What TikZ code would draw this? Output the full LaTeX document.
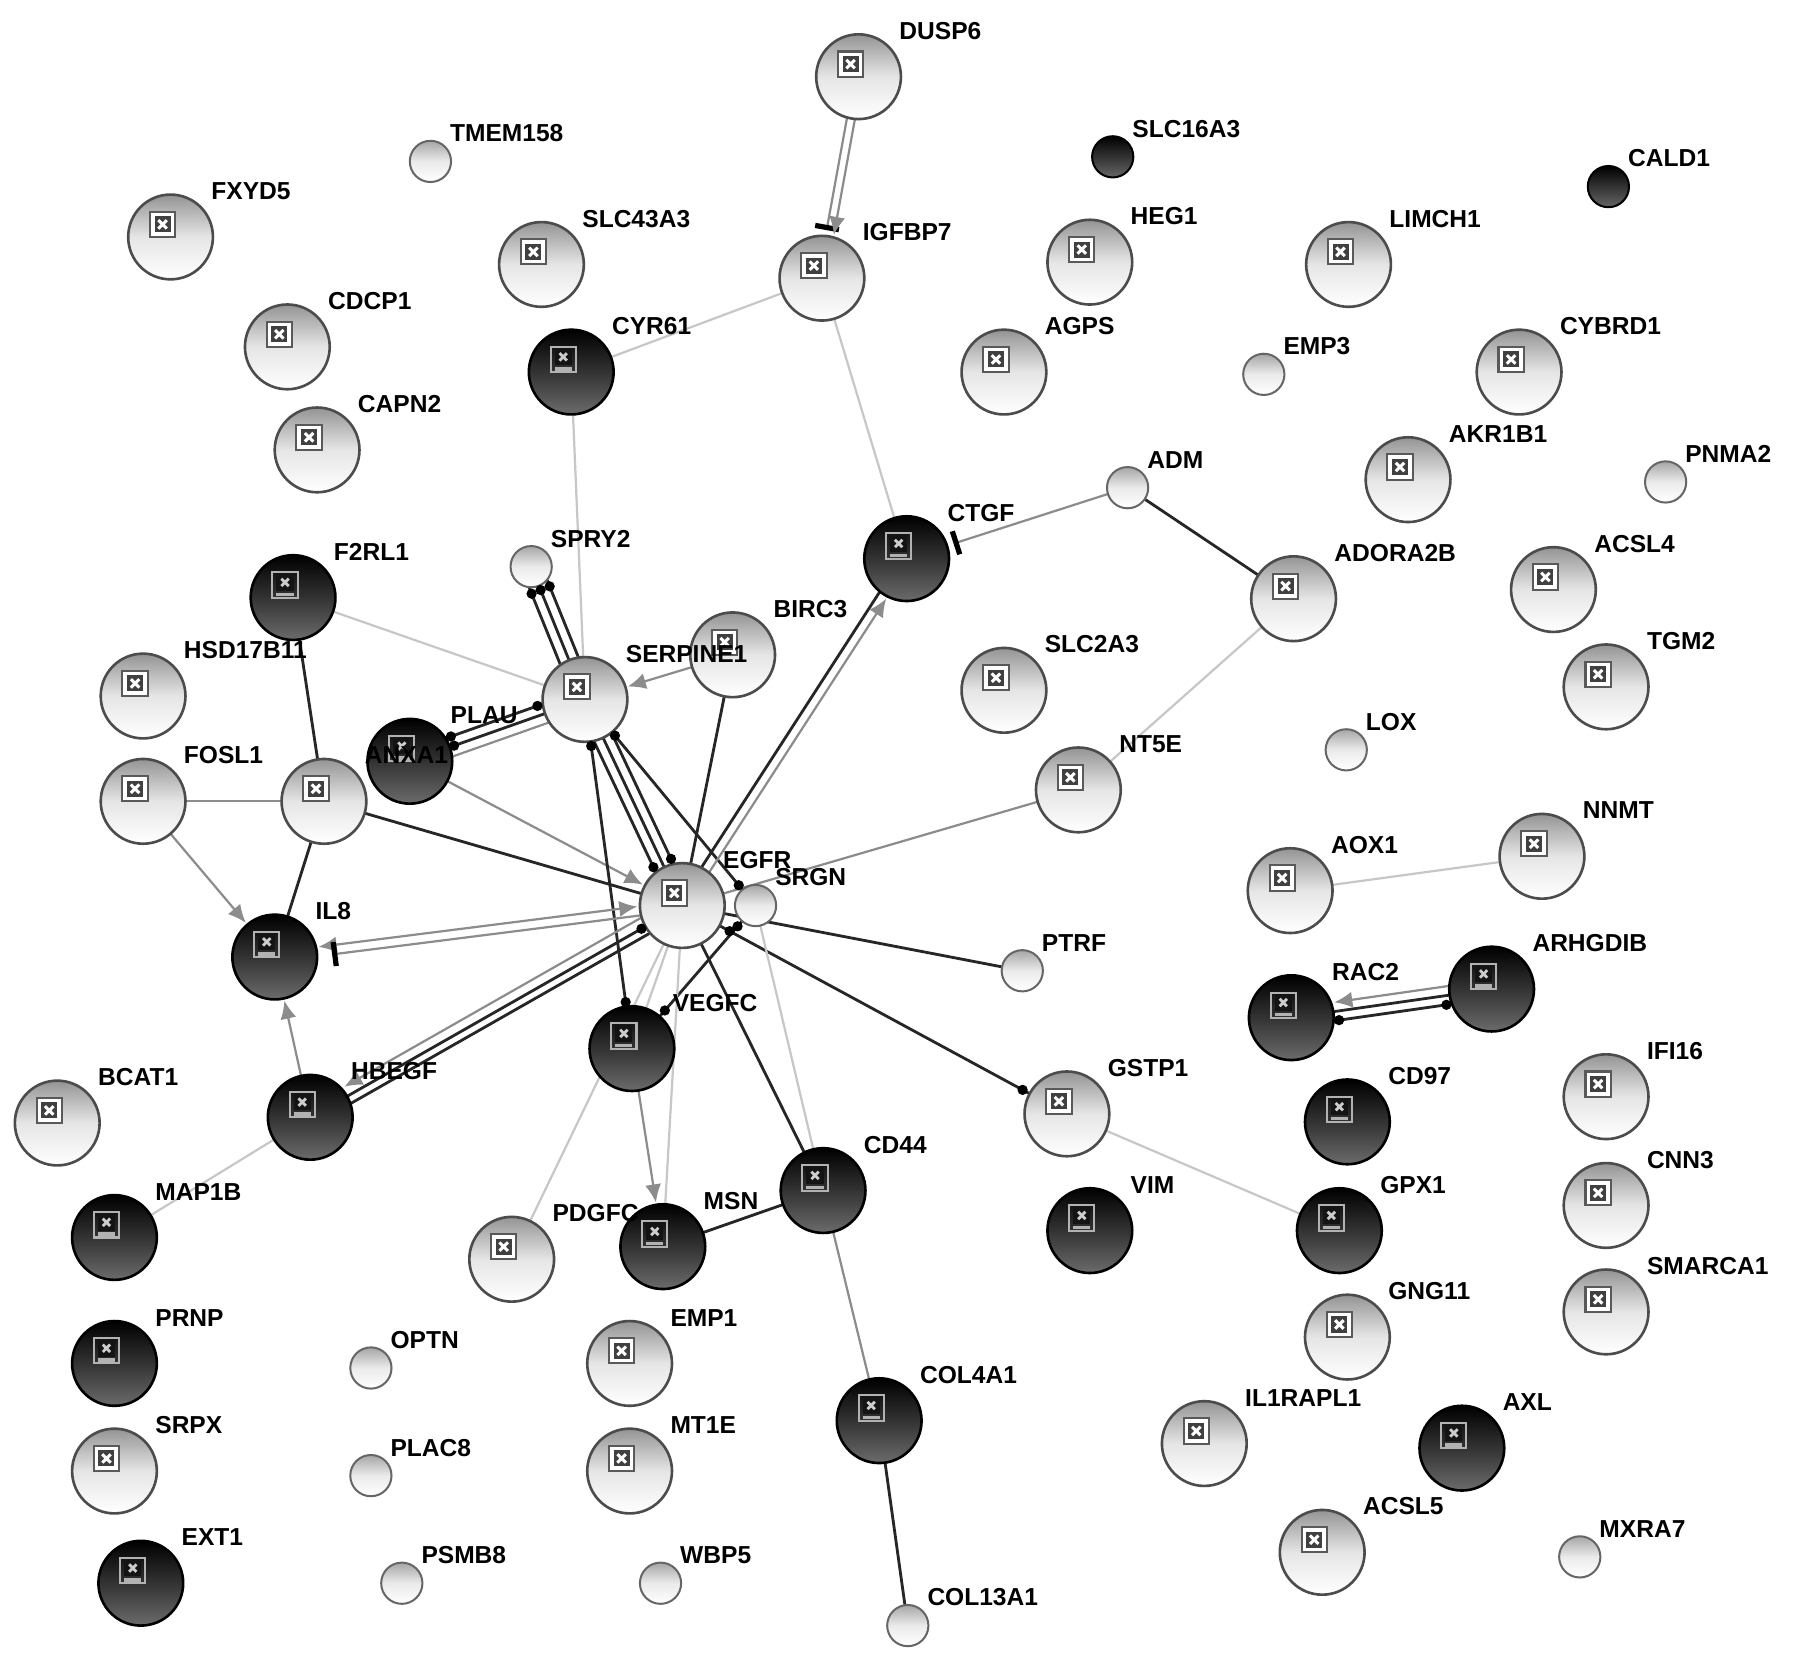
\documentclass[tikz,border=0pt]{standalone}
\usepackage{fontspec}
\newfontfamily\labfam{Liberation Sans Bold}
\usetikzlibrary{calc,arrows.meta}
\pgfdeclarelayer{bg}
\pgfdeclarelayer{fg}
\pgfsetlayers{bg,main,fg}
\tikzset{
 nl/.style={circle,minimum size=0.74cm,inner sep=0pt,draw=black!70,line width=0.65pt,top color=black!42,bottom color=white,middle color=black!10},
 nd/.style={circle,minimum size=0.74cm,inner sep=0pt,draw=black,line width=0.65pt,top color=black,bottom color=black!58,middle color=black!80},
 ns/.style={circle,minimum size=0.36cm,inner sep=0pt,draw=black!60,line width=0.5pt,top color=black!35,bottom color=white,middle color=black!8},
 nsd/.style={circle,minimum size=0.36cm,inner sep=0pt,draw=black,line width=0.5pt,top color=black,bottom color=black!60},
 labL/.style={anchor=west,xshift=0.35cm,yshift=0.40cm,inner sep=0pt,font=\labfam\fontsize{6.1pt}{7pt}\selectfont},
 labS/.style={anchor=west,xshift=0.165cm,yshift=0.245cm,inner sep=0pt,font=\labfam\fontsize{6.1pt}{7pt}\selectfont},
 iconL/.pic={
  \draw[black!65,line width=0.5pt,fill=white] (-0.11cm,-0.11cm) rectangle (0.11cm,0.11cm);
  \fill[black!75] (-0.07cm,-0.07cm) rectangle (0.07cm,0.07cm);
  \draw[white,line width=0.75pt] (-0.037cm,-0.037cm)--(0.037cm,0.037cm) (-0.037cm,0.037cm)--(0.037cm,-0.037cm);
 },
 iconD/.pic={
  \draw[black!30,line width=0.5pt] (-0.11cm,-0.11cm) rectangle (0.11cm,0.11cm);
  \fill[black!92] (-0.075cm,-0.05cm) rectangle (0.075cm,0.095cm);
  \draw[white!80!black,line width=0.7pt] (-0.032cm,-0.01cm)--(0.032cm,0.055cm) (-0.032cm,0.055cm)--(0.032cm,-0.01cm);
  \draw[black!30,line width=0.9pt] (-0.075cm,-0.082cm)--(0.075cm,-0.082cm);
 },
 bk/.style={draw=black!85,line width=0.7pt},
 gy/.style={draw=black!45,line width=0.55pt},
 lt/.style={draw=black!22,line width=0.55pt},
 ar/.style={-{Latex[length=4.5pt,width=4pt]}},
 ra/.style={{Latex[length=4.5pt,width=4pt]}-},
 arar/.style={{Latex[length=4.5pt,width=4pt]}-{Latex[length=4.5pt,width=4pt]}},
 toL/.style={shorten >=0.39cm},
 toS/.style={shorten >=0.2cm},
 frL/.style={shorten <=0.39cm},
 barend/.style={-{Bar[width=6pt,line width=1.3pt,color=black]}},
}
\newcommand\NL[4]{\node[nl] (#1) at (#2,#3) {};\pic at ([shift={(-0.07cm,0.11cm)}]#1.center) {iconL};\begin{pgfonlayer}{fg}\node[labL] at (#1.center) {#4};\end{pgfonlayer}}
\newcommand\ND[4]{\node[nd] (#1) at (#2,#3) {};\pic at ([shift={(-0.07cm,0.11cm)}]#1.center) {iconD};\begin{pgfonlayer}{fg}\node[labL] at (#1.center) {#4};\end{pgfonlayer}}
\newcommand\NS[4]{\node[ns] (#1) at (#2,#3) {};\begin{pgfonlayer}{fg}\node[labS] at (#1.center) {#4};\end{pgfonlayer}}
\newcommand\NSD[4]{\node[nsd] (#1) at (#2,#3) {};\begin{pgfonlayer}{fg}\node[labS] at (#1.center) {#4};\end{pgfonlayer}}
\newcommand\E[4]{\draw[#4] ($(#1.center)!#3!90:(#2.center)$) -- ($(#2.center)!#3!-90:(#1.center)$);}
\newcommand\DB[4]{\fill[black] let \p1=($(#2.center)!#3!-90:(#1.center)$), \p2=($(#1.center)!#3!90:(#2.center)$) in ($(\p1)!#4!(\p2)$) circle (0.045cm);}
\newcommand\DA[4]{\fill[black] let \p1=($(#1.center)!#3!90:(#2.center)$), \p2=($(#2.center)!#3!-90:(#1.center)$) in ($(\p1)!#4!(\p2)$) circle (0.045cm);}
\begin{document}
\begin{tikzpicture}[x=0.01cm,y=-0.01cm]
\useasboundingbox (0,0) rectangle (1568,1451);
\begin{pgfonlayer}{bg}
\fill[white] (0,0) rectangle (1568,1451);
\end{pgfonlayer}
\NL{DUSP6}{750}{67}{DUSP6}
\NS{TMEM158}{376}{141}{TMEM158}
\NL{FXYD5}{149}{207}{FXYD5}
\NL{SLC43A3}{473}{231}{SLC43A3}
\NL{IGFBP7}{718}{243}{IGFBP7}
\NSD{SLC16A3}{972}{137}{SLC16A3}
\NSD{CALD1}{1405}{163}{CALD1}
\NL{HEG1}{952}{229}{HEG1}
\NL{LIMCH1}{1178}{231}{LIMCH1}
\NL{CDCP1}{251}{303}{CDCP1}
\ND{CYR61}{499}{325}{CYR61}
\NL{AGPS}{877}{325}{AGPS}
\NS{EMP3}{1104}{327}{EMP3}
\NL{CYBRD1}{1327}{325}{CYBRD1}
\NL{CAPN2}{277}{393}{CAPN2}
\NL{AKR1B1}{1230}{419}{AKR1B1}
\NS{PNMA2}{1455}{421}{PNMA2}
\NS{ADM}{985}{426}{ADM}
\ND{CTGF}{792}{488}{CTGF}
\NS{SPRY2}{464}{495}{SPRY2}
\ND{F2RL1}{256}{522}{F2RL1}
\NL{ADORA2B}{1130}{523}{ADORA2B}
\NL{ACSL4}{1357}{515}{ACSL4}
\NL{HSD17B11}{125}{608}{HSD17B11}
\NL{BIRC3}{640}{572}{BIRC3}
\NL{SERPINE1}{511}{611}{SERPINE1}
\NL{SLC2A3}{877}{603}{SLC2A3}
\NL{TGM2}{1403}{600}{TGM2}
\NS{LOX}{1176}{655}{LOX}
\ND{PLAU}{358}{665}{PLAU}
\NL{ANXA1}{283}{700}{ANXA1}
\NL{FOSL1}{125}{700}{FOSL1}
\NL{NT5E}{942}{690}{NT5E}
\NL{NNMT}{1347}{748}{NNMT}
\NL{AOX1}{1127}{778}{AOX1}
\NL{EGFR}{596}{791}{EGFR}
\NS{SRGN}{660}{791}{SRGN}
\ND{IL8}{240}{836}{IL8}
\NS{PTRF}{893}{848}{PTRF}
\ND{ARHGDIB}{1303}{864}{ARHGDIB}
\ND{RAC2}{1128}{889}{RAC2}
\ND{VEGFC}{552}{916}{VEGFC}
\ND{HBEGF}{271}{976}{HBEGF}
\NL{BCAT1}{50}{981}{BCAT1}
\NL{GSTP1}{932}{973}{GSTP1}
\ND{CD97}{1177}{980}{CD97}
\NL{IFI16}{1403}{958}{IFI16}
\ND{CD44}{719}{1040}{CD44}
\ND{MAP1B}{100}{1081}{MAP1B}
\ND{VIM}{952}{1075}{VIM}
\ND{GPX1}{1170}{1075}{GPX1}
\NL{CNN3}{1403}{1053}{CNN3}
\NL{PDGFC}{447}{1100}{PDGFC}
\ND{MSN}{579}{1089}{MSN}
\NL{SMARCA1}{1403}{1146}{SMARCA1}
\NL{GNG11}{1177}{1168}{GNG11}
\NS{OPTN}{324}{1195}{OPTN}
\ND{PRNP}{100}{1191}{PRNP}
\NL{EMP1}{550}{1191}{EMP1}
\ND{COL4A1}{768}{1241}{COL4A1}
\NL{IL1RAPL1}{1052}{1261}{IL1RAPL1}
\ND{AXL}{1277}{1265}{AXL}
\NL{SRPX}{100}{1285}{SRPX}
\NS{PLAC8}{324}{1289}{PLAC8}
\NL{MT1E}{550}{1285}{MT1E}
\NL{ACSL5}{1155}{1356}{ACSL5}
\NS{MXRA7}{1380}{1360}{MXRA7}
\ND{EXT1}{123}{1383}{EXT1}
\NS{PSMB8}{351}{1383}{PSMB8}
\NS{WBP5}{577}{1383}{WBP5}
\NS{COL13A1}{793}{1420}{COL13A1}
\begin{pgfonlayer}{bg}
\E{DUSP6}{IGFBP7}{-0.035cm}{gy,barend,shorten >=0.42cm}
\E{DUSP6}{IGFBP7}{0.035cm}{gy,ar,toL}
\E{IGFBP7}{CYR61}{0cm}{lt}
\E{IGFBP7}{CTGF}{0cm}{lt}
\E{CYR61}{SERPINE1}{0cm}{lt}
\E{SPRY2}{SERPINE1}{-0.085cm}{bk}
\E{SPRY2}{SERPINE1}{0cm}{bk}
\E{SPRY2}{SERPINE1}{0.085cm}{bk}
\E{F2RL1}{SERPINE1}{0cm}{lt}
\E{BIRC3}{SERPINE1}{0cm}{gy,ar,toL}
\E{PLAU}{SERPINE1}{-0.085cm}{gy}
\E{PLAU}{SERPINE1}{0cm}{bk}
\E{PLAU}{SERPINE1}{0.085cm}{bk}
\E{F2RL1}{ANXA1}{0cm}{bk}
\E{ANXA1}{IL8}{0cm}{bk}
\E{FOSL1}{ANXA1}{0cm}{gy}
\E{FOSL1}{IL8}{0cm}{gy,ar,toL}
\E{ANXA1}{EGFR}{0cm}{bk}
\E{PLAU}{EGFR}{0cm}{gy,ar,toL}
\E{SERPINE1}{EGFR}{-0.085cm}{bk}
\E{SERPINE1}{EGFR}{0cm}{bk}
\E{SERPINE1}{EGFR}{0.085cm}{bk}
\E{SERPINE1}{VEGFC}{0cm}{bk}
\E{SERPINE1}{SRGN}{0cm}{bk}
\E{BIRC3}{EGFR}{0cm}{bk}
\E{EGFR}{CTGF}{0.04cm}{bk}
\E{EGFR}{CTGF}{-0.04cm}{gy,ar,toL}
\E{ADM}{CTGF}{0cm}{gy,barend,shorten >=0.43cm}
\E{ADM}{ADORA2B}{0cm}{bk}
\E{ADORA2B}{NT5E}{0cm}{lt}
\E{NT5E}{EGFR}{0cm}{gy}
\E{EGFR}{PTRF}{0cm}{bk}
\E{EGFR}{GSTP1}{0cm}{bk}
\E{SRGN}{VEGFC}{0cm}{bk}
\E{EGFR}{IL8}{-0.04cm}{gy,arar,frL,toL}
\E{EGFR}{IL8}{0.04cm}{gy,barend,shorten >=0.5cm}
\E{HBEGF}{EGFR}{0.085cm}{gy,ra,frL}
\E{HBEGF}{EGFR}{0cm}{bk}
\E{HBEGF}{EGFR}{-0.07cm}{bk}
\E{HBEGF}{IL8}{0cm}{gy,ar,toL}
\E{HBEGF}{MAP1B}{0cm}{lt}
\E{EGFR}{VEGFC}{0cm}{lt}
\E{EGFR}{PDGFC}{0cm}{lt}
\E{EGFR}{MSN}{0cm}{lt}
\E{VEGFC}{MSN}{0cm}{gy,ar,toL}
\E{EGFR}{CD44}{0cm}{bk}
\E{SRGN}{CD44}{0cm}{lt}
\E{CD44}{MSN}{0cm}{bk}
\E{CD44}{COL4A1}{0cm}{gy}
\E{COL4A1}{COL13A1}{0cm}{bk}
\E{ARHGDIB}{RAC2}{-0.08cm}{gy,ar,toL}
\E{ARHGDIB}{RAC2}{0cm}{bk}
\E{ARHGDIB}{RAC2}{0.08cm}{bk}
\E{AOX1}{NNMT}{0cm}{lt}
\E{GSTP1}{GPX1}{0cm}{lt}
\end{pgfonlayer}
\DA{SPRY2}{SERPINE1}{-0.085cm}{0.22cm}
\DA{SPRY2}{SERPINE1}{0cm}{0.22cm}
\DA{SPRY2}{SERPINE1}{0.085cm}{0.22cm}
\DA{PLAU}{SERPINE1}{0cm}{0.41cm}
\DA{PLAU}{SERPINE1}{0.085cm}{0.41cm}
\DB{PLAU}{SERPINE1}{0.085cm}{0.41cm}
\DB{SERPINE1}{EGFR}{-0.085cm}{0.41cm}
\DB{SERPINE1}{EGFR}{0.085cm}{0.41cm}
\DA{SERPINE1}{VEGFC}{0cm}{0.41cm}
\DB{SERPINE1}{VEGFC}{0cm}{0.41cm}
\DA{SERPINE1}{SRGN}{0cm}{0.41cm}
\DB{SERPINE1}{SRGN}{0cm}{0.23cm}
\DA{EGFR}{GSTP1}{0cm}{0.47cm}
\DB{EGFR}{GSTP1}{0cm}{0.44cm}
\DA{SRGN}{VEGFC}{0cm}{0.24cm}
\DB{SRGN}{VEGFC}{0cm}{0.44cm}
\DB{HBEGF}{EGFR}{0cm}{0.41cm}
\DA{ARHGDIB}{RAC2}{0.08cm}{0.41cm}
\DB{ARHGDIB}{RAC2}{0.08cm}{0.41cm}
\end{tikzpicture}
\end{document}
